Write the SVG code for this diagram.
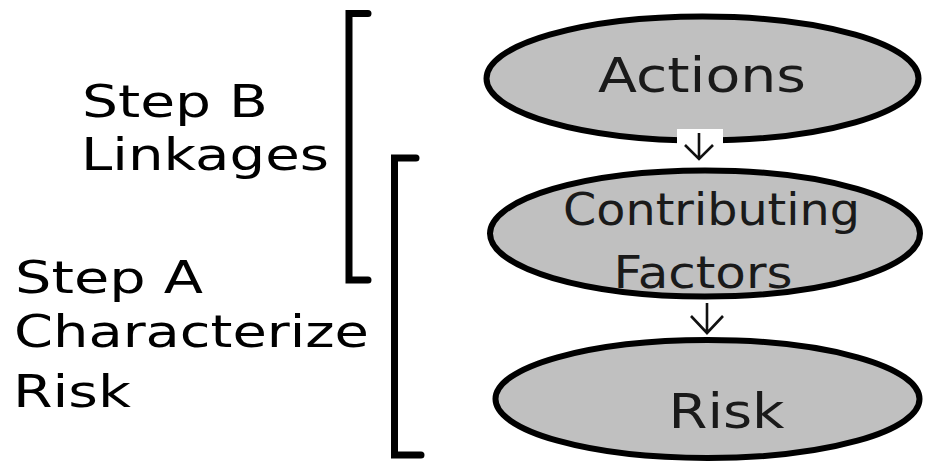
<svg xmlns="http://www.w3.org/2000/svg" width="925" height="462" viewBox="0 0 925 462">
  <style>
    .label { font-family: "DejaVu Sans", Verdana, sans-serif; font-size: 45px; fill: #000; }
    .node ellipse { fill: #c0c0c0; stroke: #000; stroke-width: 6; }
    .node text { font-family: "DejaVu Sans", Verdana, sans-serif; fill: #1a1a1a; text-anchor: middle; }
    .bracket { fill: none; stroke: #000; stroke-width: 7; stroke-linecap: round; stroke-linejoin: miter; }
    .arrow { fill: none; stroke: #111; stroke-width: 2.6; stroke-linecap: butt; stroke-linejoin: miter; }
  </style>
  <rect width="925" height="462" fill="#fff"/>

  <!-- Step labels on the left -->
  <g id="step-b-label">
    <text class="label" x="82" y="117" textLength="186" lengthAdjust="spacingAndGlyphs">Step B</text>
    <text class="label" x="81" y="170" textLength="248" lengthAdjust="spacingAndGlyphs">Linkages</text>
  </g>
  <g id="step-a-label">
    <text class="label" x="15" y="293" textLength="188" lengthAdjust="spacingAndGlyphs">Step A</text>
    <text class="label" x="14" y="347" textLength="355" lengthAdjust="spacingAndGlyphs">Characterize</text>
    <text class="label" x="13" y="407" textLength="118" lengthAdjust="spacingAndGlyphs">Risk</text>
  </g>

  <!-- Brackets spanning the steps -->
  <g id="brackets">
    <path class="bracket" d="M368,13.5 H349 V280 H368"/>
    <path class="bracket" d="M416,158 H394.5 V455 H421"/>
  </g>

  <!-- Nodes -->
  <g id="node-actions" class="node">
    <ellipse cx="702.5" cy="78.5" rx="216" ry="62"/>
    <text x="702" y="92" font-size="48" textLength="208" lengthAdjust="spacingAndGlyphs">Actions</text>
  </g>
  <g id="node-contributing-factors" class="node">
    <ellipse cx="705" cy="233.5" rx="215" ry="63"/>
    <text x="711.5" y="225" font-size="44" textLength="297" lengthAdjust="spacingAndGlyphs">Contributing</text>
    <text x="703" y="288" font-size="44" textLength="179" lengthAdjust="spacingAndGlyphs">Factors</text>
  </g>
  <g id="node-risk" class="node">
    <ellipse cx="707.5" cy="399" rx="212" ry="59"/>
    <text x="726.5" y="428" font-size="48" textLength="116" lengthAdjust="spacingAndGlyphs">Risk</text>
  </g>

  <!-- Connectors -->
  <g id="connectors">
    <rect x="677" y="129" width="46" height="16" fill="#fff"/>
    <path class="arrow" d="M699,133 V158 M685,145 L699,159 L713,145"/>
    <path class="arrow" d="M707,303 V332 M691,316 L707,333 L723,316"/>
  </g>
</svg>
